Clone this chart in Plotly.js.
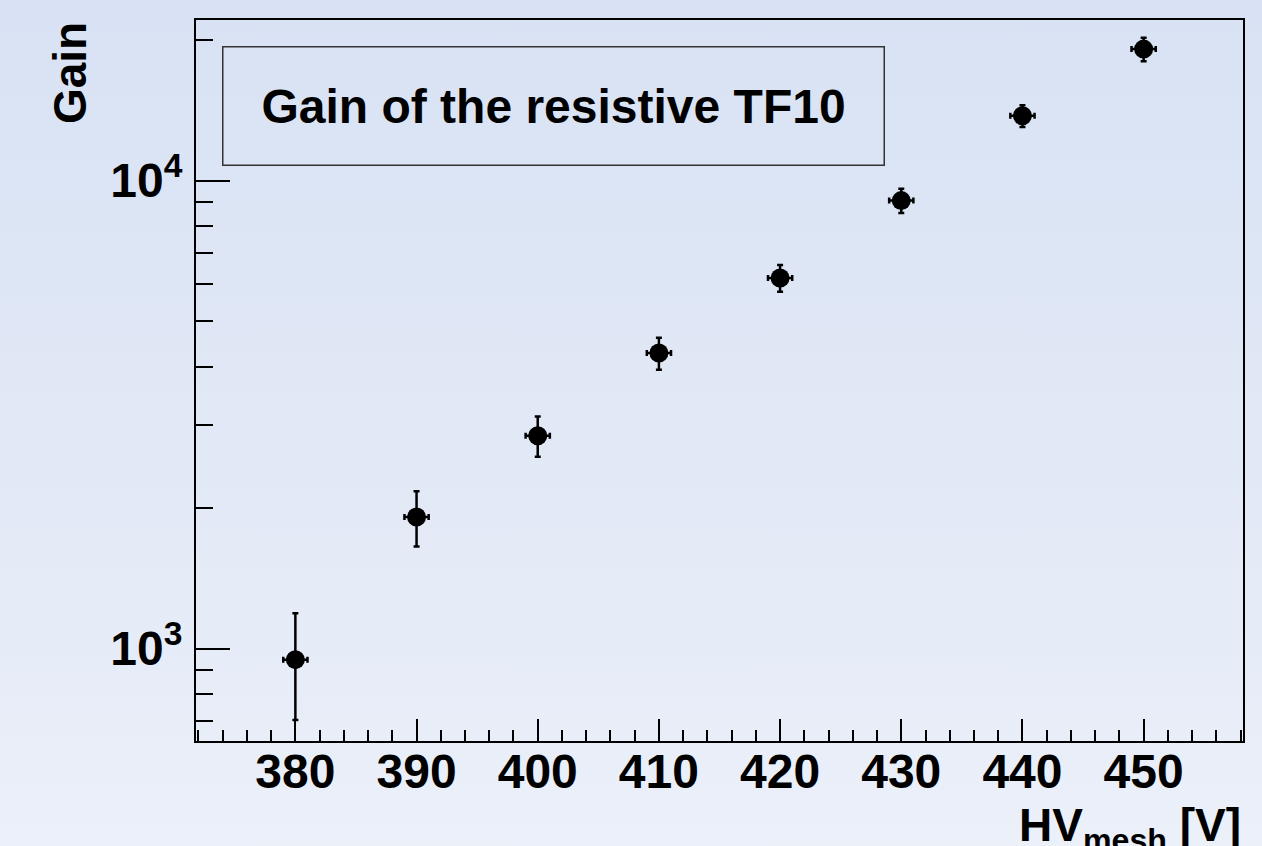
<!DOCTYPE html>
<html>
<head>
<meta charset="utf-8">
<script src="https://cdn.plot.ly/plotly-3.0.1.min.js"></script>
<style>
  html, body { margin:0; padding:0; width:1262px; height:846px; overflow:hidden;
    background: linear-gradient(to bottom, #d8e2f4 0%, #e2e9f6 55%, #ebf0f9 100%); }
  #chart { width:1262px; height:846px; }
</style>
</head>
<body>
<div id="chart"></div>
<script>
// Data
const hvMesh   = [380, 390, 400, 410, 420, 430, 440, 450];
const gain     = [947, 1911, 2850, 4280, 6190, 9060, 13750, 19090];
const gainErr  = [243, 258, 281, 336, 406, 540, 740, 1100];
const hvErr    = [1, 1, 1, 1, 1, 1, 1, 1];
const xTickVals = [380, 390, 400, 410, 420, 430, 440, 450];
const yTickVals = [1000, 10000];
const yTickText = ['10<sup>3</sup>', '10<sup>4</sup>'];
const yMinorVals = [700, 800, 900, 2000, 3000, 4000, 5000, 6000, 7000, 8000, 9000, 20000];
const titleText = 'Gain of the resistive TF10';
const xTitle = 'HV<sub>mesh</sub> [V]';
const yTitle = 'Gain';

const F = 'Liberation Sans, Arial, Helvetica, sans-serif';

const trace = {
  x: hvMesh, y: gain, type: 'scatter', mode: 'markers',
  marker: { symbol: 'circle', size: 19, color: '#000' },
  error_y: { type: 'data', array: gainErr, visible: true, color: '#000', thickness: 2.5, width: 3 },
  error_x: { type: 'data', array: hvErr, visible: true, color: '#000', thickness: 2.5, width: 3 },
  hoverinfo: 'x+y'
};

const layout = {
  width: 1262, height: 846,
  margin: { l: 196, r: 19, t: 20, b: 105 },
  paper_bgcolor: 'rgba(0,0,0,0)',
  plot_bgcolor: 'rgba(0,0,0,0)',
  showlegend: false,
  font: { family: F, color: '#000' },
  xaxis: {
    range: [371.8, 458.2],
    tickmode: 'array', tickvals: xTickVals,
    ticks: 'inside', ticklen: 22, tickwidth: 2, tickcolor: '#000',
    ticklabelstandoff: -13,
    minor: { tickmode: 'linear', tick0: 370, dtick: 2, ticks: 'inside', ticklen: 11, tickwidth: 2, tickcolor: '#000' },
    showline: true, linecolor: '#000', linewidth: 2, mirror: true,
    showgrid: false, zeroline: false,
    tickfont: { family: F, size: 48, weight: 700, color: '#000' }
  },
  yaxis: {
    type: 'log',
    range: [2.8025, 4.343],
    tickmode: 'array', tickvals: yTickVals, ticktext: yTickText,
    ticks: 'inside', ticklen: 34, tickwidth: 2, tickcolor: '#000',
    ticklabelstandoff: 2,
    minor: { tickmode: 'array', tickvals: yMinorVals, ticks: 'inside', ticklen: 17, tickwidth: 2, tickcolor: '#000' },
    showline: true, linecolor: '#000', linewidth: 2, mirror: true,
    showgrid: false, zeroline: false,
    tickfont: { family: F, size: 48, weight: 700, color: '#000' }
  },
  annotations: [
    {
      xref: 'paper', yref: 'paper', x: 0.341, y: 0.8814, xanchor: 'center', yanchor: 'middle',
      text: titleText, showarrow: false,
      font: { family: F, size: 48, weight: 700, color: '#000' },
      width: 658, height: 115, align: 'center', valign: 'middle',
      bordercolor: '#333', borderwidth: 1.5, borderpad: 1
    },
    {
      xref: 'paper', yref: 'paper', x: 1.0, y: -0.078, xanchor: 'right', yanchor: 'top',
      text: xTitle, showarrow: false,
      font: { family: F, size: 46, weight: 700, color: '#000' }
    },
    {
      xref: 'paper', yref: 'paper', x: -0.1203, y: 1.0, xanchor: 'center', yanchor: 'top',
      text: yTitle, showarrow: false, textangle: -90,
      font: { family: F, size: 46, weight: 700, color: '#000' }
    }
  ]
};

Plotly.newPlot('chart', [trace], layout, { staticPlot: true });
</script>
</body>
</html>
